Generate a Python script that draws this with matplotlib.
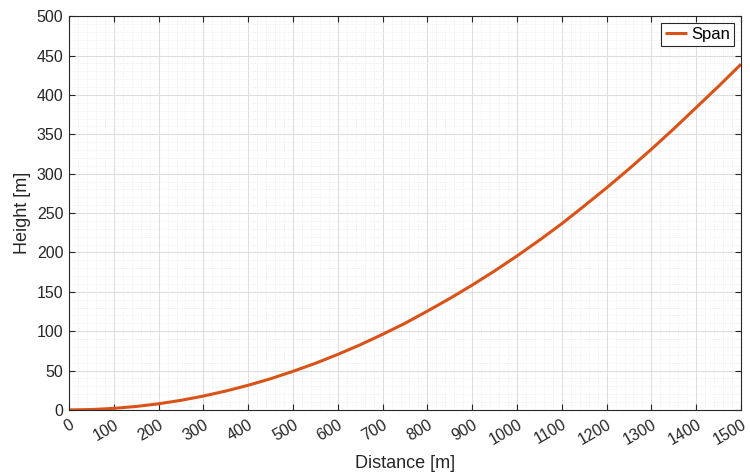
import numpy as np
import matplotlib
matplotlib.use("Agg")
import matplotlib.pyplot as plt
from matplotlib.ticker import MultipleLocator

# ------------------- data -------------------
distance = [0, 50, 100, 150, 200, 250, 300, 350, 400, 450, 500,
            550, 600, 650, 700, 750, 800, 850, 900, 950, 1000,
            1050, 1100, 1150, 1200, 1250, 1300, 1350, 1400, 1450, 1500]
height = [0.0, 0.5, 2.0, 4.4, 7.8, 12.2, 17.6, 24.0, 31.3, 39.6, 49.0,
          59.2, 70.5, 82.7, 96.0, 110.0, 125.5, 141.5, 158.5, 176.5, 195.5,
          215.5, 236.5, 259.0, 282.0, 306.0, 331.0, 357.0, 384.0, 411.0, 439.0]
series_label = "Span"
x_ticks = list(range(0, 1501, 100))
y_ticks = list(range(0, 501, 50))

# ------------------- style -------------------
plt.rcParams["font.family"] = ["Liberation Sans", "DejaVu Sans"]
AX_COLOR = "#262626"
LINE_COLOR = "#D95319"

fig = plt.figure(figsize=(7.5, 4.75), dpi=100)
ax = fig.add_axes([0.092, 0.137, 0.896, 0.829])

ax.plot(distance, height, color=LINE_COLOR, lw=2.2, label=series_label,
        solid_capstyle="butt")

ax.set_xlim(0, 1500)
ax.set_ylim(0, 500)
ax.set_xticks(x_ticks)
ax.set_yticks(y_ticks)
ax.xaxis.set_minor_locator(MultipleLocator(20))
ax.yaxis.set_minor_locator(MultipleLocator(10))

ax.grid(which="major", color="#dedede", lw=0.8, ls="-")
ax.grid(which="minor", color="#e8e8e8", lw=0.6, ls=":")
ax.set_axisbelow(True)

for s in ax.spines.values():
    s.set_color(AX_COLOR)
    s.set_linewidth(0.8)

ax.tick_params(which="major", direction="in", length=4.5, width=0.8,
               top=True, right=True, colors=AX_COLOR, labelsize=11.5)
ax.tick_params(axis="x", which="major", pad=5)
ax.tick_params(axis="y", which="major", pad=4)
ax.tick_params(which="minor", length=0, top=True, right=True)

for lbl in ax.get_xticklabels():
    lbl.set_rotation(30)
    lbl.set_ha("right")
    lbl.set_va("top")
    lbl.set_rotation_mode("anchor")

ax.set_xlabel("Distance [m]", fontsize=13, color=AX_COLOR, labelpad=5)
ax.set_ylabel("Height [m]", fontsize=13, color=AX_COLOR, labelpad=4)

leg = ax.legend(loc="upper right", fontsize=12, frameon=True, fancybox=False,
                handlelength=1.3, handletextpad=0.25, borderpad=0.25,
                borderaxespad=0.4)
leg.get_frame().set_edgecolor(AX_COLOR)
leg.get_frame().set_linewidth(0.8)
leg.get_frame().set_alpha(1)

fig.savefig("out.png", dpi=100)
